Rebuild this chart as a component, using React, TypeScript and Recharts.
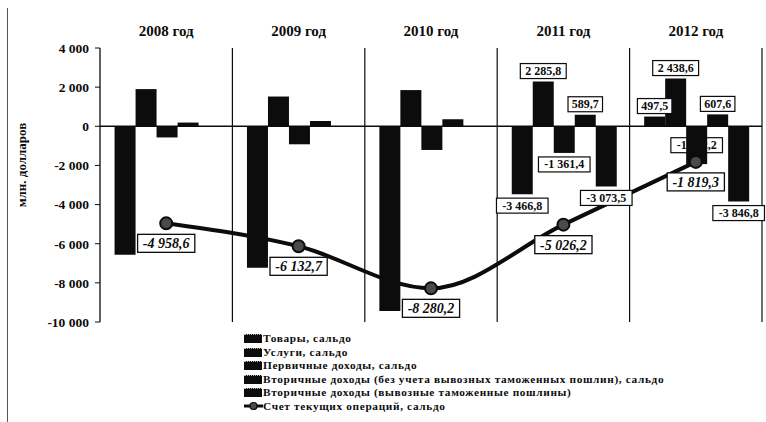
import { ComposedChart, Bar, Line, XAxis, YAxis, CartesianGrid, ReferenceLine, LabelList } from "recharts"

const years = ["2008 год", "2009 год", "2010 год", "2011 год", "2012 год"]
const goods = [-6560, -7230, -9440, -3466.8, 497.5]
const services = [1900, 1520, 1850, 2285.8, 2438.6]
const primaryIncome = [-570, -920, -1210, -1361.4, -1932.2]
const secondaryIncome = [190, 270, 360, 589.7, 607.6]
const exportDuties = [null, null, null, -3073.5, -3846.8]
const currentAccount = [-4958.6, -6132.7, -8280.2, -5026.2, -1819.3]
const yTicks = [4000, 2000, 0, -2000, -4000, -6000, -8000, -10000]

// bar labels are only shown for these years
const labeledYears = ["2011 год", "2012 год"]
// this label sits inside its bar and is partly hidden by it
const insideLabel = { key: "primaryIncome", year: "2012 год" }

const barSeries = [
  { key: "goods", name: "Товары, сальдо", values: goods },
  { key: "services", name: "Услуги, сальдо", values: services },
  { key: "primaryIncome", name: "Первичные доходы, сальдо", values: primaryIncome },
  { key: "secondaryIncome", name: "Вторичные доходы (без учета вывозных таможенных пошлин), сальдо", values: secondaryIncome },
  { key: "exportDuties", name: "Вторичные доходы (вывозные таможенные пошлины)", values: exportDuties },
]
const lineName = "Счет текущих операций, сальдо"

const data = years.map((year, i) => {
  const row: any = { year, currentAccount: currentAccount[i] }
  barSeries.forEach((s) => {
    const v = s.values[i]
    const labeled = labeledYears.includes(year)
    const inside = insideLabel.key === s.key && insideLabel.year === year
    row[s.key] = v
    row[s.key + "_out"] = labeled && !inside ? v : null
    row[s.key + "_in"] = labeled && inside ? v : null
  })
  return row
})

const FONT = "'Liberation Serif', 'DejaVu Serif', serif"
const INK = "#0c0c0c"

function fmt(v: number) {
  const [int, dec] = Math.abs(v).toFixed(1).split(".")
  return (v < 0 ? "-" : "") + int.replace(/\B(?=(\d{3})+(?!\d))/g, " ") + "," + dec
}

function fmtTick(v: number) {
  return (v < 0 ? "-" : "") + String(Math.abs(v)).replace(/\B(?=(\d{3})+(?!\d))/g, " ")
}

function makeBarLabel(inside: boolean) {
  return (props: any) => {
    const vb = props.viewBox || props
    const { x, y, width, height } = vb
    const { value } = props
    if (value == null || value === "") return null
    const num = Number(value)
    const text = fmt(num)
    const w = text.length * 5.7 + 6
    const h = 15
    const cx = x + width / 2
    const top = Math.min(y, y + height)
    const bottom = Math.max(y, y + height)
    let by
    if (inside) by = (top + bottom) / 2 - h / 2
    else if (num >= 0) by = top - 3 - h
    else by = bottom + 4
    return (
      <g>
        <rect x={cx - w / 2} y={by} width={w} height={h} fill="#fff" stroke={INK} strokeWidth={1.2} />
        <text x={cx} y={by + h / 2 + 4} textAnchor="middle" fontFamily={FONT} fontWeight="bold" fontSize={12} fill={INK}>
          {text}
        </text>
        {inside && <rect x={x} y={by - 1} width={width} height={h + 2} fill={INK} />}
      </g>
    )
  }
}

const OutLabel = makeBarLabel(false)
const InLabel = makeBarLabel(true)

const LineLabel = (props: any) => {
  const { x, y, value } = props
  if (value == null) return null
  const text = fmt(value)
  const w = text.length * 6.4 + 6
  const h = 18
  const by = y + 11
  return (
    <g>
      <rect x={x - w / 2} y={by} width={w} height={h} fill="#fff" stroke={INK} strokeWidth={1.3} />
      <text x={x} y={by + h / 2 + 5} textAnchor="middle" fontFamily={FONT} fontWeight="bold" fontStyle="italic" fontSize={14} fill={INK}>
        {text}
      </text>
    </g>
  )
}

export default function App() {
  return (
    <div style={{ position: "absolute", left: 0, top: 0, width: 766, height: 422, background: "#fff", fontFamily: FONT, overflow: "hidden" }}>
      <div style={{ position: "absolute", left: 7, top: 8, width: 1, height: 414, background: "#555" }} />
      <ComposedChart
        width={766}
        height={422}
        data={data}
        margin={{ top: 18, right: 4, bottom: 100, left: 0 }}
        barCategoryGap="11%"
        barGap={0}
      >
        <CartesianGrid
          horizontal={false}
          stroke={INK}
          strokeWidth={1.2}
          verticalCoordinatesGenerator={({ offset }: any) =>
            years.map((_, i) => offset.left + ((i + 1) * offset.width) / years.length)
          }
        />
        <XAxis
          dataKey="year"
          xAxisId={0}
          orientation="top"
          height={30}
          axisLine={false}
          tickLine={false}
          tick={{ fontFamily: FONT, fontWeight: "bold", fontSize: 15, fill: INK }}
          tickMargin={6}
        />
        <YAxis
          domain={[-10000, 4000]}
          ticks={yTicks}
          interval={0}
          width={100}
          axisLine={{ stroke: INK, strokeWidth: 1.3 }}
          tickLine={{ stroke: INK }}
          tickSize={5}
          tickMargin={6}
          tickFormatter={fmtTick}
          tick={{ fontFamily: FONT, fontWeight: "bold", fontSize: 13.5, fill: INK }}
          label={{
            content: () => (
              <text transform="translate(26,165) rotate(-90)" textAnchor="middle" fontFamily={FONT} fontWeight="bold" fontSize={13} fill={INK}>
                млн. долларов
              </text>
            ),
          }}
        />
        {barSeries.map((s) => (
          <Bar key={s.key} dataKey={s.key} name={s.name} fill={INK} isAnimationActive={false}>
            <LabelList dataKey={s.key + "_out"} content={OutLabel} />
            <LabelList dataKey={s.key + "_in"} content={InLabel} />
          </Bar>
        ))}
        <ReferenceLine y={0} stroke={INK} strokeWidth={1.5} />
        <Line
          type="monotone"
          dataKey="currentAccount"
          name={lineName}
          stroke={INK}
          strokeWidth={4}
          dot={{ r: 6, fill: "#4a4a4a", stroke: INK, strokeWidth: 2 }}
          isAnimationActive={false}
        >
          <LabelList dataKey="currentAccount" content={LineLabel} />
        </Line>
      </ComposedChart>
      <div style={{ position: "absolute", left: 244, top: 332, fontFamily: FONT, fontSize: 11.3, fontWeight: "bold", color: INK, lineHeight: "13.5px", letterSpacing: "0.65px" }}>
        {barSeries.map((s) => (
          <div key={s.key} style={{ display: "flex", alignItems: "center", whiteSpace: "nowrap", height: 13.5 }}>
            <span style={{ display: "inline-block", width: 18, height: 8, background: INK, borderTop: "1px dotted #bbb", marginRight: 1, flexShrink: 0 }} />
            {s.name}
          </div>
        ))}
        <div style={{ display: "flex", alignItems: "center", whiteSpace: "nowrap", height: 13.5 }}>
          <svg width={19} height={10} style={{ flexShrink: 0 }}>
            <line x1={0} y1={5} x2={19} y2={5} stroke={INK} strokeWidth={3} />
            <circle cx={9.5} cy={5} r={3.5} fill="#4a4a4a" stroke={INK} strokeWidth={1.2} />
          </svg>
          {lineName}
        </div>
      </div>
    </div>
  )
}
